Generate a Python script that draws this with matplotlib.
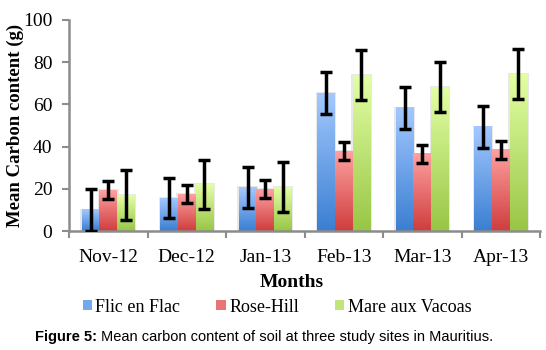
import numpy as np
import matplotlib.pyplot as plt
import matplotlib.patches as mpatches
from matplotlib.colors import LinearSegmentedColormap

months = ["Nov-12", "Dec-12", "Jan-13", "Feb-13", "Mar-13", "Apr-13"]
sites = ["Flic en Flac", "Rose-Hill", "Mare aux Vacoas"]
flic = [10.0, 15.6, 20.8, 65.3, 58.3, 49.3]
flic_err = [10.0, 9.6, 9.7, 10.0, 9.8, 9.9]
rose = [19.4, 17.5, 19.8, 37.9, 36.5, 38.4]
rose_err = [4.2, 4.3, 4.2, 4.3, 4.3, 4.2]
mare = [17.0, 22.2, 20.7, 73.9, 68.1, 74.4]
mare_err = [11.9, 11.6, 11.8, 11.7, 11.8, 11.8]

# gradient colours (top, bottom)
grads = [("#a3c8ff", "#3b7fd2"), ("#ffa0a0", "#cf3e3e"), ("#e2ffa4", "#99c646")]

plt.rcParams['font.family'] = ['Liberation Serif', 'DejaVu Serif']

fig = plt.figure(figsize=(5.46, 3.5), dpi=100)
ax = fig.add_axes([69 / 546, 1 - 231 / 350, 471 / 546, 211 / 350])

x = np.arange(len(months))
w = 0.225
series = [(flic, flic_err), (rose, rose_err), (mare, mare_err)]
handles = []
for i, ((vals, errs), (c_top, c_bot)) in enumerate(zip(series, grads)):
    pos = x + (i - 1) * w
    bars = ax.bar(pos, vals, w, color="none", edgecolor="none", zorder=2)
    cmap = LinearSegmentedColormap.from_list("g%d" % i, [c_bot, c_top])
    grad = np.linspace(0, 1, 64).reshape(-1, 1)
    for b in bars:
        x0, y0 = b.get_x(), b.get_y()
        # soft shadow
        ax.add_patch(mpatches.Rectangle((x0 - 0.02, y0), b.get_width() + 0.04, b.get_height() + 0.6,
                                        color="#e8e8e8", zorder=1, lw=0))
        ax.imshow(grad, cmap=cmap, origin="lower", aspect="auto", zorder=2,
                  extent=(x0, x0 + b.get_width(), y0, y0 + b.get_height()))
    ax.errorbar(pos, vals, yerr=errs, fmt="none", ecolor="black", elinewidth=2.5,
                capsize=4.5, capthick=2.5, zorder=3)
    handles.append(mpatches.Patch(facecolor=cmap(0.55), edgecolor="none", label=sites[i]))

ax.set_xlim(-0.5, len(months) - 0.5)
ax.set_ylim(0, 100)
ax.set_yticks([0, 20, 40, 60, 80, 100])
ax.set_xticks(x)
ax.set_xticklabels(months)
ax.set_xticks(np.arange(-0.5, len(months)), minor=True)
ax.tick_params(axis="x", which="major", length=0, pad=13, labelsize=14)
ax.tick_params(axis="x", which="minor", length=5, width=1.5, color="#8c8c8c")
ax.tick_params(axis="y", length=5, width=1.5, color="#8c8c8c", labelsize=14, pad=7)
for s in ["top", "right"]:
    ax.spines[s].set_visible(False)
for s in ["left", "bottom"]:
    ax.spines[s].set_color("#8c8c8c")
    ax.spines[s].set_linewidth(1.8)

ax.set_ylabel("Mean Carbon content (g)", fontsize=13.5, fontweight="bold")
ax.set_xlabel("Months", fontsize=14, fontweight="bold")
ax.yaxis.set_label_coords(-(69 - 24) / 471, 0.5)
ax.xaxis.set_label_coords((292 - 69) / 471, -(274 - 231) / 211)

leg = fig.legend(handles=handles, loc="center", bbox_to_anchor=(277 / 546, 1 - 307 / 350), ncol=3,
                 frameon=False, fontsize=13,
                 handlelength=0.5, handleheight=0.5, handletextpad=0.2, columnspacing=2.0)

cap_y = 1 - 337 / 350
t1 = fig.text(35 / 546, cap_y, "Figure 5:", fontsize=10.5, fontweight="bold",
              family=["Liberation Sans"], ha="left", va="center")
fig.canvas.draw()
bb = t1.get_window_extent()
fig.text((bb.x1 + 4) / 546, cap_y, "Mean carbon content of soil at three study sites in Mauritius.",
         fontsize=10.5, family=["Liberation Sans"], ha="left", va="center")

fig.savefig("out.png", dpi=100)
